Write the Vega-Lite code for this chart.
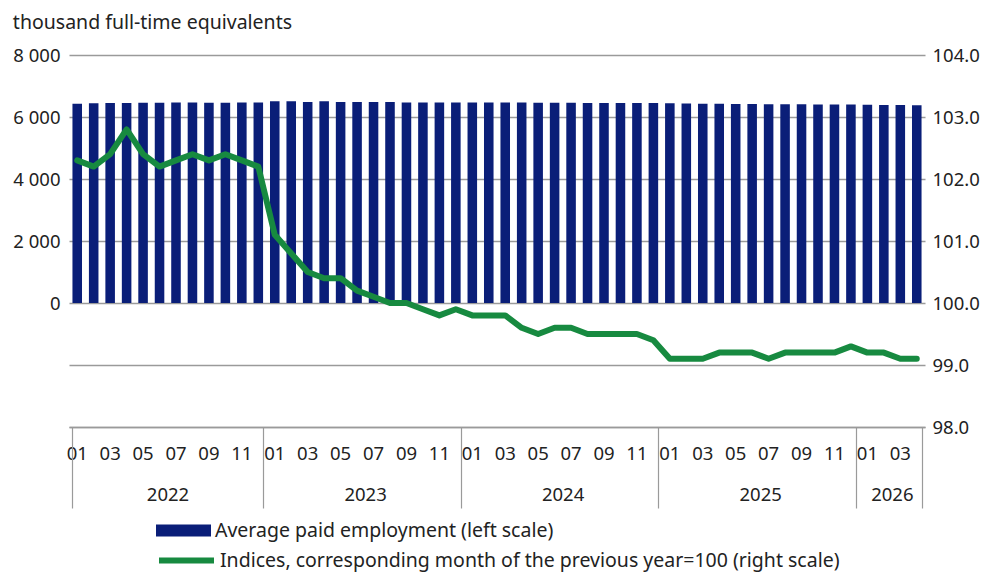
{
  "$schema": "https://vega.github.io/schema/vega-lite/v6.json",
  "width": 856,
  "height": 372,
  "padding": {"left": 12, "top": 12, "right": 0, "bottom": 0},
  "background": "white",
  "config": {
    "font": "Noto Sans",
    "view": {"stroke": null},
    "axis": {"labelColor": "#222222", "labelFontSize": 18.5, "labelFont": "Noto Sans"},
    "legend": {"labelColor": "#222222", "labelFontSize": 19.5, "labelFont": "Noto Sans", "labelLimit": 0}
  },
  "title": {
    "text": "thousand full-time equivalents",
    "anchor": "start",
    "frame": "bounds",
    "fontSize": 19.5,
    "fontWeight": "normal",
    "color": "#222222",
    "offset": 13
  },
  "data": {
    "values": [
      {"m": "2022-01", "emp": 6430, "idx": 102.3},
      {"m": "2022-02", "emp": 6445, "idx": 102.2},
      {"m": "2022-03", "emp": 6455, "idx": 102.4},
      {"m": "2022-04", "emp": 6455, "idx": 102.8},
      {"m": "2022-05", "emp": 6460, "idx": 102.4},
      {"m": "2022-06", "emp": 6460, "idx": 102.2},
      {"m": "2022-07", "emp": 6465, "idx": 102.3},
      {"m": "2022-08", "emp": 6465, "idx": 102.4},
      {"m": "2022-09", "emp": 6460, "idx": 102.3},
      {"m": "2022-10", "emp": 6460, "idx": 102.4},
      {"m": "2022-11", "emp": 6465, "idx": 102.3},
      {"m": "2022-12", "emp": 6470, "idx": 102.2},
      {"m": "2023-01", "emp": 6505, "idx": 101.1},
      {"m": "2023-02", "emp": 6505, "idx": 100.8},
      {"m": "2023-03", "emp": 6485, "idx": 100.5},
      {"m": "2023-04", "emp": 6505, "idx": 100.4},
      {"m": "2023-05", "emp": 6485, "idx": 100.4},
      {"m": "2023-06", "emp": 6480, "idx": 100.2},
      {"m": "2023-07", "emp": 6480, "idx": 100.1},
      {"m": "2023-08", "emp": 6480, "idx": 100.0},
      {"m": "2023-09", "emp": 6470, "idx": 100.0},
      {"m": "2023-10", "emp": 6470, "idx": 99.9},
      {"m": "2023-11", "emp": 6470, "idx": 99.8},
      {"m": "2023-12", "emp": 6470, "idx": 99.9},
      {"m": "2024-01", "emp": 6470, "idx": 99.8},
      {"m": "2024-02", "emp": 6465, "idx": 99.8},
      {"m": "2024-03", "emp": 6465, "idx": 99.8},
      {"m": "2024-04", "emp": 6465, "idx": 99.6},
      {"m": "2024-05", "emp": 6460, "idx": 99.5},
      {"m": "2024-06", "emp": 6460, "idx": 99.6},
      {"m": "2024-07", "emp": 6460, "idx": 99.6},
      {"m": "2024-08", "emp": 6455, "idx": 99.5},
      {"m": "2024-09", "emp": 6455, "idx": 99.5},
      {"m": "2024-10", "emp": 6455, "idx": 99.5},
      {"m": "2024-11", "emp": 6450, "idx": 99.5},
      {"m": "2024-12", "emp": 6450, "idx": 99.4},
      {"m": "2025-01", "emp": 6440, "idx": 99.1},
      {"m": "2025-02", "emp": 6435, "idx": 99.1},
      {"m": "2025-03", "emp": 6430, "idx": 99.1},
      {"m": "2025-04", "emp": 6425, "idx": 99.2},
      {"m": "2025-05", "emp": 6420, "idx": 99.2},
      {"m": "2025-06", "emp": 6420, "idx": 99.2},
      {"m": "2025-07", "emp": 6415, "idx": 99.1},
      {"m": "2025-08", "emp": 6410, "idx": 99.2},
      {"m": "2025-09", "emp": 6410, "idx": 99.2},
      {"m": "2025-10", "emp": 6405, "idx": 99.2},
      {"m": "2025-11", "emp": 6400, "idx": 99.2},
      {"m": "2025-12", "emp": 6400, "idx": 99.3},
      {"m": "2026-01", "emp": 6395, "idx": 99.2},
      {"m": "2026-02", "emp": 6390, "idx": 99.2},
      {"m": "2026-03", "emp": 6385, "idx": 99.1},
      {"m": "2026-04", "emp": 6380, "idx": 99.1}
    ]
  },
  "layer": [
    {
      "mark": {"type": "bar"},
      "encoding": {
        "x": {
          "field": "m",
          "type": "ordinal",
          "scale": {"paddingInner": 0.42, "paddingOuter": 0.21},
          "axis": {
            "orient": "bottom",
            "title": null,
            "labelAngle": 0,
            "labelExpr": "toNumber(substring(datum.value,5,7)) % 2 == 1 ? substring(datum.value,5,7) : ''",
            "ticks": false,
            "domain": true,
            "domainColor": "#9a9a9a",
            "domainWidth": 1.5,
            "labelPadding": 17
          }
        },
        "y": {
          "field": "emp",
          "type": "quantitative",
          "scale": {"domain": [-4000, 8000], "nice": false, "zero": false},
          "axis": {
            "orient": "left",
            "title": null,
            "values": [-4000, -2000, 0, 2000, 4000, 6000, 8000],
            "labelExpr": "datum.value >= 1000 ? floor(datum.value/1000) + ' 000' : (datum.value == 0 ? '0' : '')",
            "grid": true,
            "gridColor": "#9a9a9a",
            "gridWidth": 1.5,
            "domain": false,
            "ticks": false,
            "labelPadding": 9
          }
        },
        "fill": {
          "datum": "Average paid employment (left scale)",
          "scale": {"range": ["#0A1E78"]},
          "legend": {
            "title": null,
            "orient": "none",
            "legendX": 87,
            "legendY": 448,
            "symbolType": "M-1,-0.22H1V0.22H-1Z",
            "symbolSize": 3025,
            "symbolStrokeWidth": 0,
            "labelOffset": 4
          }
        }
      }
    },
    {
      "mark": {"type": "line", "strokeWidth": 6, "strokeCap": "round", "strokeJoin": "round"},
      "encoding": {
        "x": {
          "field": "m",
          "type": "ordinal",
          "axis": {
            "orient": "bottom",
            "title": null,
            "labelAngle": 0,
            "labelExpr": "substring(datum.value,5,7) == '06' ? substring(datum.value,0,4) : (datum.value == '2026-02' ? '2026' : '')",
            "labelOffset": 8,
            "domain": false,
            "ticks": true,
            "tickBand": "extent",
            "tickSize": 81,
            "tickColor": "#9a9a9a",
            "tickWidth": 1.2,
            "tickOpacity": {"condition": {"test": "datum.extra || substring(datum.value,5,7) == '12' || datum.value == '2026-04'", "value": 1}, "value": 0},
            "labelPadding": -23
          }
        },
        "y": {
          "field": "idx",
          "type": "quantitative",
          "scale": {"domain": [98, 104], "nice": false, "zero": false},
          "axis": {
            "orient": "right",
            "title": null,
            "values": [98, 99, 100, 101, 102, 103, 104],
            "format": ".1f",
            "grid": false,
            "domain": false,
            "ticks": false,
            "labelPadding": 7
          }
        },
        "stroke": {
          "datum": "Indices, corresponding month of the previous year=100 (right scale)",
          "scale": {"range": ["#178A40"]},
          "legend": {
            "title": null,
            "orient": "none",
            "legendX": 87,
            "legendY": 475,
            "symbolType": "stroke",
            "symbolSize": 3025,
            "symbolStrokeWidth": 6,
            "labelOffset": 3
          }
        }
      }
    }
  ],
  "resolve": {
    "scale": {"y": "independent"},
    "axis": {"x": "independent", "y": "independent"}
  }
}
